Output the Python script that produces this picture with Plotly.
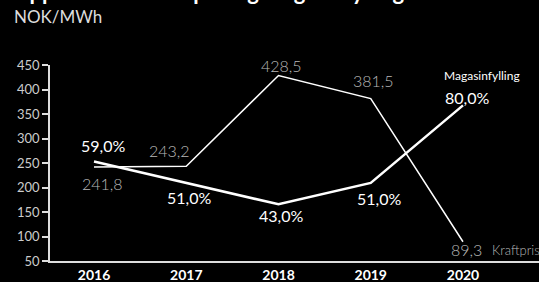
import plotly.graph_objects as go

years = [2016, 2017, 2018, 2019, 2020]
kraftpris = [241.8, 243.2, 428.5, 381.5, 89.3]
magasin = [59.0, 51.0, 43.0, 51.0, 80.0]
pris_labels = ["241,8", "243,2", "428,5", "381,5", "89,3"]
mag_labels = ["59,0%", "51,0%", "43,0%", "51,0%", "80,0%"]
y_ticks = [50, 100, 150, 200, 250, 300, 350, 400, 450]

FONT = "Lato"
GRAY = "#b8b8b8"

fig = go.Figure()
fig.add_trace(go.Scatter(x=years, y=kraftpris, mode="lines",
                         line=dict(color="white", width=1.5), yaxis="y"))
fig.add_trace(go.Scatter(x=years, y=magasin, mode="lines",
                         line=dict(color="white", width=2.5), yaxis="y2"))

ann = []
pris_shift = [(8, -16), (-17, 16), (3, 10), (3, 18), (4, -8)]
for x, v, t, (dx, dy) in zip(years, kraftpris, pris_labels, pris_shift):
    ann.append(dict(x=x, y=v, xref="x", yref="y", text=t, showarrow=False,
                    xshift=dx, yshift=dy,
                    font=dict(family=FONT, size=16, color=GRAY, weight=300)))
mag_shift = [(9, 16), (3, -15), (2, -11), (8, -16), (4, 8)]
for x, v, t, (dx, dy) in zip(years, magasin, mag_labels, mag_shift):
    ann.append(dict(x=x, y=v, xref="x", yref="y2", text=t, showarrow=False,
                    xshift=dx, yshift=dy, font=dict(family=FONT, size=16, color="white")))
ann.append(dict(x=years[-1], y=magasin[-1], xref="x", yref="y2", text="Magasinfylling",
                showarrow=False, xshift=19, yshift=30,
                font=dict(family=FONT, size=12, color="white")))
ann.append(dict(x=years[-1], y=kraftpris[-1], xref="x", yref="y", text="Kraftpris",
                showarrow=False, xanchor="left", xshift=27, yshift=-8,
                font=dict(family=FONT, size=13, color=GRAY, weight=300)))
ann.append(dict(x=-0.078, y=1.245, xref="paper", yref="paper", text="NOK/MWh",
                showarrow=False, xanchor="left", yanchor="middle",
                font=dict(family=FONT, size=17, color="#dddddd")))
ann.append(dict(x=-0.082, y=1.295, xref="paper", yref="paper",
                text="<b>Oppsummert kraftpris og magasinfylling</b>",
                showarrow=False, xanchor="left", yanchor="bottom",
                font=dict(family=FONT, size=22, color="white")))

fig.update_layout(
    width=539, height=282,
    margin=dict(l=50, r=0, t=65, b=21),
    paper_bgcolor="black", plot_bgcolor="black",
    showlegend=False,
    annotations=ann,
    xaxis=dict(range=[2015.523, 2020.824], tickvals=years, ticktext=[str(y) for y in years],
               showgrid=False, zeroline=False, showline=True, linecolor="#dddddd", linewidth=1.5,
               ticks="", tickfont=dict(family=FONT, size=14, color="white", weight="bold")),
    yaxis=dict(range=[50, 450], tickvals=y_ticks, showgrid=False, zeroline=False,
               showline=True, linecolor="#dddddd", linewidth=1.5,
               ticks="outside", ticklen=6, tickcolor="#dddddd", tickwidth=1.5,
               tickfont=dict(family=FONT, size=13, color="#cccccc")),
    yaxis2=dict(range=[21.8, 95.1], overlaying="y", side="right", visible=False),
)

fig.write_html("out.html", config={"displayModeBar": False},
               post_script="document.body.style.margin='0px';")
